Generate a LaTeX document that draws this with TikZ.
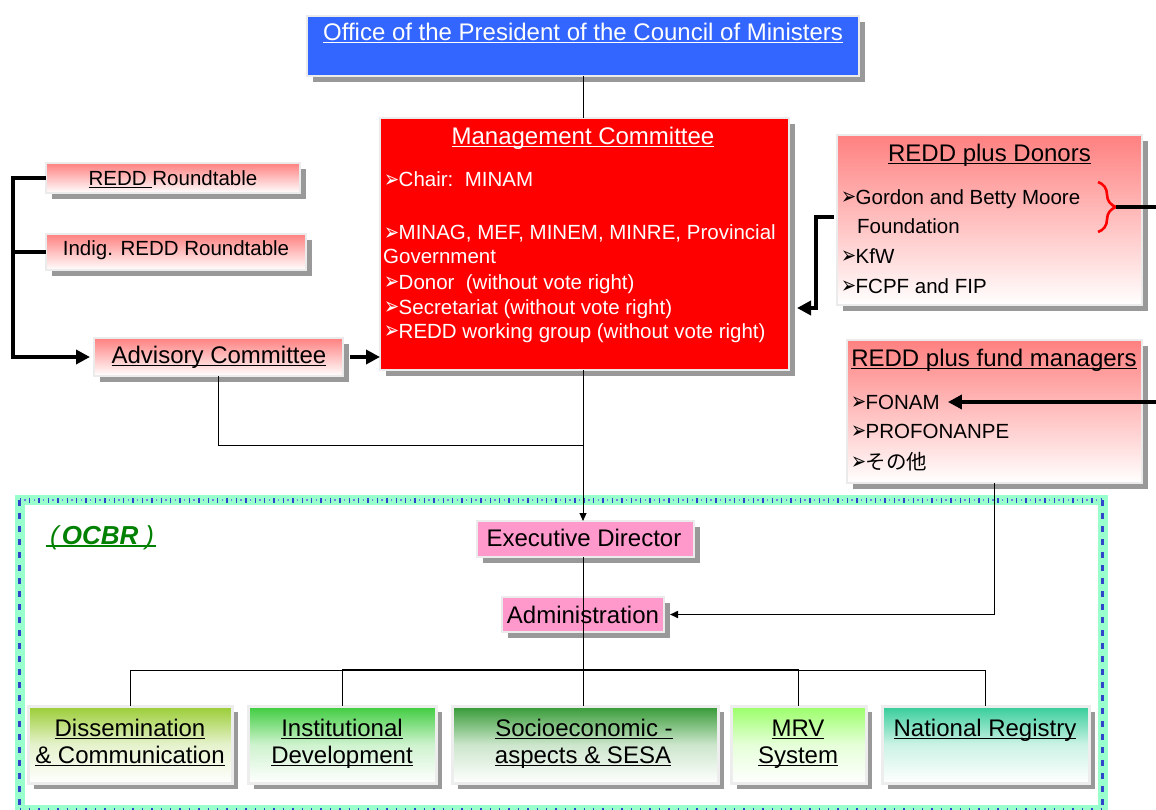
\documentclass[tikz,border=0pt]{standalone}
\usepackage{fontspec}
\usepackage{graphicx}
\setmainfont{Liberation Sans}
\newfontfamily\dejavu{DejaVu Sans}
\newfontfamily\cjkjp{Noto Sans CJK JP}
\usetikzlibrary{shadows,arrows.meta,decorations.pathreplacing,calc}

\definecolor{officeblue}{HTML}{3366FF}
\definecolor{mgmtred}{HTML}{FF0000}
\definecolor{rose}{HTML}{FF8080}
\definecolor{pinkbox}{HTML}{FF99CC}
\definecolor{frameMint}{HTML}{99FFCC}
\definecolor{frameBlue}{HTML}{3344CC}
\definecolor{ocbrGreen}{HTML}{008000}
\definecolor{dissTop}{HTML}{99CC33}
\definecolor{instTop}{HTML}{3CCC3C}
\definecolor{socioTop}{HTML}{339933}
\definecolor{mrvTop}{HTML}{99FF66}
\definecolor{natTop}{HTML}{33CC99}

% list bullet with a fixed advance and no height of its own
\newcommand\bul{\makebox[14.5pt][l]{\smash{\raisebox{-0.4pt}{\scalebox{0.82}[1.08]{\dejavu\fontsize{22}{22}\selectfont ➢}}}}}
% underline at a fixed distance below the baseline
\newcommand\ul[1]{\setbox0\hbox{#1}\rlap{\rule[-2.6pt]{\wd0}{1.3pt}}\box0}

\tikzset{
  box/.style={rectangle, anchor=north west, inner sep=0pt, outer sep=0pt,
    draw=white!92!black, line width=1.5pt,
    drop shadow={shadow xshift=6pt, shadow yshift=-6pt, fill=black!40, opacity=1}},
  unitbox/.style={box, line width=3pt, draw=white!93!black,
    top color=#1, bottom color=white, middle color=#1!25!white},
  rosebox/.style={box, top color=rose, bottom color=white},
  big/.style={font=\fontsize{24}{28}\selectfont},
  body/.style={font=\fontsize{20.5}{24}\selectfont},
  lbl/.style={inner sep=0pt, anchor=base},
  item/.style={inner sep=0pt, anchor=base west, body},
  heavy/.style={line width=3.6pt},
  fine/.style={line width=1pt},
  bigtip/.style={-{Triangle[length=14pt,width=14pt]}},
  smalltip/.style={-{Triangle[length=8pt,width=7pt]}},
}

\begin{document}
\begin{tikzpicture}[x=1pt,y=-1pt]
\useasboundingbox (0,0) rectangle (1156,810);

% ---- OCBR frame ----
\node[rectangle, anchor=north west, inner sep=0pt, outer sep=0pt, draw=frameMint, line width=10pt,
      minimum width=1083pt, minimum height=310pt] (ocbr) at (19.5,500) {};
\draw[frameBlue, line width=5pt, dash pattern=on 1.4pt off 8pt]
  (ocbr.north west) -- (ocbr.north east);
\draw[frameBlue!70, line width=1.5pt, dash pattern=on 1.4pt off 8pt, dash phase=4.7pt]
  (ocbr.north west) -- (ocbr.north east);
\draw[frameBlue, line width=5pt, dash pattern=on 1.4pt off 8pt]
  (ocbr.south west) -- (ocbr.south east);
\draw[frameBlue, line width=2.2pt, dash pattern=on 6pt off 7pt]
  (ocbr.north west) -- (ocbr.south west);
\draw[frameBlue, line width=2.2pt, dash pattern=on 6pt off 7pt]
  (ocbr.north east) -- (ocbr.south east);
\node[inner sep=0pt, anchor=base west, text=ocbrGreen,
      font=\fontsize{26}{30}\selectfont\bfseries\itshape] (ocbr-t) at (46,544)
  {\ul{\kern4pt{\mdseries(}\kern3pt OCBR\kern7pt{\mdseries)}\kern2pt}};

% ---- top level ----
\node[box, fill=officeblue, minimum width=552pt, minimum height=60pt] (office) at (307,16) {};
\node[lbl, big, text=white] (office-t) at (583,40.6)
  {\ul{Office of the President of the Council of Ministers}};

\node[box, fill=mgmtred, minimum width=409pt, minimum height=252pt] (mgmt) at (380,118) {};
\node[lbl, big, text=white] (mgmt-t) at (583,144.6) {\ul{Management Committee}};
\begin{scope}[every node/.append style={text=white}]
\node[item] (mgmt-1) at (384,187) {\bul Chair:\ \ MINAM};
\node[item] (mgmt-2) at (384,240) {\bul MINAG, MEF, MINEM, MINRE, Provincial};
\node[item] (mgmt-3) at (383,264) {Government};
\node[item] (mgmt-4) at (384,289) {\bul Donor\ \ (without vote right)};
\node[item] (mgmt-5) at (384,314) {\bul Secretariat (without vote right)};
\node[item] (mgmt-6) at (384,338) {\bul REDD working group (without vote right)};
\end{scope}

% ---- roundtables and advisory committee ----
\node[rosebox, minimum width=254pt, minimum height=30pt] (rt) at (46,163) {};
\node[lbl, body] (rt-t) at (173,185.5) {\ul{REDD\ }Roundtable};
\node[rosebox, minimum width=260pt, minimum height=36pt] (indig) at (46,234) {};
\node[lbl, body] (indig-t) at (176,255.5) {Indig. REDD Roundtable};
\node[rosebox, minimum width=249pt, minimum height=38pt] (adv) at (94,338) {};
\node[lbl, big] (adv-t) at (219,363.6) {\ul{Advisory Committee}};

% ---- donors and fund managers ----
\node[rosebox, minimum width=305pt, minimum height=170pt] (donors) at (837,135) {};
\node[lbl, big] (donors-t) at (989.5,161.6) {\ul{REDD plus Donors}};
\node[item] (don-1) at (841,204.5) {\bul Gordon and Betty Moore};
\node[item] (don-2) at (857,233.5) {Foundation};
\node[item] (don-3) at (841,263.5) {\bul KfW};
\node[item] (don-4) at (841,293.5) {\bul FCPF and FIP};

\node[rosebox, minimum width=295pt, minimum height=143pt] (fund) at (847,340) {};
\node[lbl, big] (fund-t) at (994,366.6) {\ul{REDD plus fund managers}};
\node[item] (fonam) at (851,409.5) {\bul FONAM};
\node[item] (fund-2) at (851,438.5) {\bul PROFONANPE};
\node[item] (fund-3) at (851,469.5) {\bul{\cjkjp その他}};

% ---- OCBR units ----
\node[box, fill=pinkbox, minimum width=217pt, minimum height=36pt] (exec) at (477,521) {};
\node[lbl, big] (exec-t) at (584,546.6) {Executive Director};
\node[box, fill=pinkbox, minimum width=162pt, minimum height=35pt] (admin) at (502,597) {};
\node[lbl, big] (admin-t) at (583,623.6) {Administration};

\node[unitbox=dissTop, minimum width=204pt, minimum height=77pt] (diss) at (28,706) {};
\node[lbl, big] (diss-t1) at (130,736.6) {\ul{Dissemination}};
\node[lbl, big] (diss-t2) at (130,763.6) {\ul{\&\ Communication}};
\node[unitbox=instTop, minimum width=188pt, minimum height=77pt] (inst) at (248,706) {};
\node[lbl, big] (inst-t1) at (342,736.6) {\ul{Institutional}};
\node[lbl, big] (inst-t2) at (342,763.6) {\ul{Development}};
\node[unitbox=socioTop, minimum width=266pt, minimum height=77pt] (socio) at (452,706) {};
\node[lbl, big] (socio-t1) at (584,736.6) {\ul{Socioeconomic -}};
\node[lbl, big] (socio-t2) at (583,763.6) {\ul{aspects \& SESA}};
\node[unitbox=mrvTop, minimum width=135pt, minimum height=77pt] (mrv) at (731,706) {};
\node[lbl, big] (mrv-t1) at (798,736.6) {\ul{MRV}};
\node[lbl, big] (mrv-t2) at (798,763.6) {\ul{System}};
\node[unitbox=natTop, minimum width=207pt, minimum height=77pt] (nat) at (882,706) {};
\node[lbl, big] (nat-t) at (985,736.6) {\ul{National Registry}};

% ---- free ends and junctions ----
\coordinate (join) at (583,445);
\coordinate (bus) at (583,670);
\coordinate (mgmt-in) at (797,308);
\coordinate (brace-top) at (1098,182);
\coordinate (brace-bot) at (1098,232);
\coordinate (brace-tip) at (1116,207);
\coordinate (edge-don) at (1156,207);
\coordinate (edge-fund) at (1156,402);

% ---- connectors ----
\draw[fine] (office.south) -- (office.south |- mgmt.north);
\draw[fine, smalltip] (office.south |- mgmt.south) -- (office.south |- exec.north);
\draw[fine] (adv.south) |- (join);

\draw[heavy, bigtip, shorten >=4pt] (rt.west) -- ++(-33,0) |- (adv.west);
\draw[heavy] (indig.west) -- ++(-33,0);
\draw[heavy, bigtip] ($(adv.east)+(7,0)$) -- (adv.east -| mgmt.west);

\draw[heavy, bigtip] ($(donors.west)+(-3,-3)$) -- ++(-18,0) |- (mgmt-in);
\draw[red, line width=2.6pt, decorate, decoration={brace, amplitude=18pt}]
  (brace-top) -- (brace-bot);
\draw[heavy] (brace-tip) -- (edge-don);
\draw[heavy, bigtip, shorten >=8pt] (edge-fund) -- (edge-fund -| fonam.east);
\draw[line width=1.6pt, smalltip, shorten >=6pt] (fund.south) |- (admin.east);

\draw[fine] (office.south |- exec.south) -- (bus);
\draw[fine] (diss.north |- bus) -- (nat.north |- bus);
\draw[line width=1.8pt] (inst.north |- bus) -- (mrv.north |- bus);
\foreach \u in {diss, inst, mrv, nat}
  \draw[fine] (\u.north |- bus) -- (\u.north);
\draw[fine] (bus) -- (bus |- socio.north);
\end{tikzpicture}
\end{document}
